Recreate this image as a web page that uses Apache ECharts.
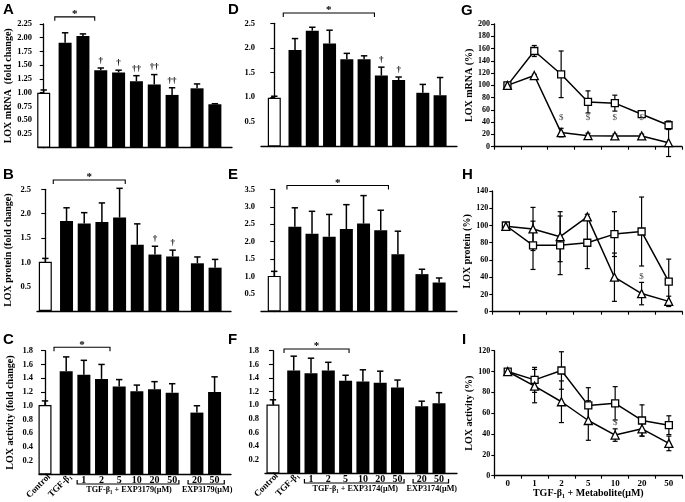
<!DOCTYPE html>
<html><head><meta charset="utf-8">
<script src="https://cdn.jsdelivr.net/npm/echarts@6/dist/echarts.min.js"></script>
<style>html,body{margin:0;padding:0;background:#fff}#c{width:685px;height:502px}</style>
</head><body><div id="c"></div><script>
// ---------------- data ----------------
const barLabels = ['Control', 'TGF-β₁', '1', '2', '5', '10', '20', '50', '20', '50'];
const doseLabels = ['0', '1', '2', '5', '10', '20', '50'];

// A: LOX mRNA, EXP3179
const A_val = [1.00, 1.91, 2.03, 1.41, 1.37, 1.21, 1.15, 0.96, 1.08, 0.79];
const A_err = [0.05, 0.18, 0.04, 0.04, 0.04, 0.10, 0.18, 0.13, 0.08, 0.01];
const A_marks = ['', '', '', '†', '†', '††', '††', '††', '', ''];
const A_sig = [0.62, 2.86, 2.38];
// B: LOX protein, EXP3179
const B_val = [1.01, 1.85, 1.80, 1.83, 1.92, 1.36, 1.16, 1.12, 0.98, 0.89];
const B_err = [0.07, 0.27, 0.22, 0.39, 0.60, 0.43, 0.17, 0.13, 0.13, 0.17];
const B_marks = ['', '', '', '', '', '', '†', '†', '', ''];
const B_sig = [0.45, 4.52, 2.69];
// C: LOX activity, EXP3179
const C_val = [1.01, 1.50, 1.45, 1.39, 1.28, 1.21, 1.24, 1.19, 0.90, 1.20];
const C_err = [0.06, 0.21, 0.21, 0.21, 0.10, 0.09, 0.11, 0.13, 0.10, 0.22];
const C_marks = ['', '', '', '', '', '', '', '', '', ''];
const C_sig = [0.51, 3.68, 1.85];
// D: LOX mRNA, EXP3174
const D_val = [0.99, 1.96, 2.35, 2.09, 1.77, 1.77, 1.44, 1.35, 1.09, 1.04];
const D_err = [0.03, 0.23, 0.07, 0.27, 0.12, 0.07, 0.17, 0.06, 0.17, 0.36];
const D_marks = ['', '', '', '', '', '', '†', '†', '', ''];
const D_sig = [0.52, 5.80, 2.71];
// E: LOX protein, EXP3174
const E_val = [1.02, 2.43, 2.23, 2.14, 2.36, 2.52, 2.33, 1.64, 1.07, 0.83];
const E_err = [0.13, 0.54, 0.64, 0.64, 0.70, 0.80, 0.57, 0.66, 0.14, 0.13];
const E_marks = ['', '', '', '', '', '', '', '', '', ''];
const E_sig = [0.74, 6.65, 3.61];
// F: LOX activity, EXP3174
const F_val = [1.01, 1.51, 1.47, 1.51, 1.36, 1.35, 1.33, 1.26, 0.985, 1.03];
const F_err = [0.07, 0.21, 0.22, 0.12, 0.08, 0.17, 0.17, 0.11, 0.075, 0.155];
const F_marks = ['', '', '', '', '', '', '', '', '', ''];
const F_sig = [0.64, 4.40, 1.825];

// G: LOX mRNA (%)
const G_sq = [100, 156, 118, 73, 71, 53, 35];
const G_sqErr = [0, 9, 38, 18, 13, 4, 7];
const G_tri = [100, 116, 23, 18, 17.5, 17.5, 6.5];
const G_triErr = [0, 2, 7, 4, 3, 3, 22.5];
const G_dollar = ['', '', '$', '$', '$', '$', ''];
const G_dollarLevel = 48;
// H: LOX protein (%)
const H_sq = [100, 77, 77, 80, 90, 93, 35];
const H_sqErr = [0, 28, 34, 30, 26, 40, 26];
const H_tri = [99, 96, 87, 110, 40, 21, 12];
const H_triErr = [0, 25, 29, 3, 28, 13, 6];
const H_dollar = ['', '', '', '', '', '$', ''];
const H_dollarLevel = 40.6;
// I: LOX activity (%)
const I_sq = [100, 92, 101, 67.5, 69.5, 53, 48.5];
const I_sqErr = [0, 12, 18, 17, 16, 15, 9];
const I_tri = [100, 86, 71, 53, 39, 45, 31];
const I_triErr = [0, 16, 20, 19, 6, 7, 7];
const I_dollar = ['', '', '', '', '$', '', ''];
const I_dollarLevel = 51;

// ---------------- layout / style ----------------
const SERIF = '"Liberation Serif", "Times New Roman", serif';
const SANS = '"Liberation Sans", Arial, sans-serif';
const GAP1 = 0.2, GAP2 = 0.4;
const pos = i => i + (i >= 1 ? GAP1 : 0) + (i >= 8 ? GAP2 : 0);
const labelAt = v => { for (let i = 0; i < barLabels.length; i++) if (Math.abs(pos(i) - v) < 1e-6) return barLabels[i]; return ''; };

const grids = [], xAxes = [], yAxes = [], series = [], graphics = [];

function letter(t, x, y) {
  graphics.push({ type: 'text', left: x, top: y, style: { text: t, font: 'bold 15px ' + SANS, fill: '#000' } });
}

function addBarPanel(p) {
  const gi = grids.length;
  grids.push(Object.assign({ containLabel: false }, p.grid));
  const xi = xAxes.length;
  xAxes.push({
    type: 'value', gridIndex: gi, min: p.xr[0], max: p.xr[1], position: 'bottom',
    axisLine: { show: true, onZero: false, lineStyle: { color: '#000', width: 1.3 } },
    axisTick: { show: false }, splitLine: { show: false },
    axisLabel: p.xlabels ? {
      show: true, customValues: [2, 3, 4, 5, 6, 7, 8, 9].map(pos), formatter: v => labelAt(v),
      margin: 1, fontFamily: SERIF, fontWeight: 'bold', fontSize: 10, color: '#000'
    } : { show: false }
  });
  const yi = yAxes.length;
  yAxes.push({
    type: 'value', gridIndex: gi, min: 0, max: p.ymax, interval: p.step,
    axisLine: { show: true, lineStyle: { color: '#000', width: 1.3 } },
    axisTick: { show: true, length: 4, lineStyle: { color: '#000', width: 1.1 } },
    splitLine: { show: false },
    axisLabel: { showMinLabel: false, formatter: v => v.toFixed(p.dec), margin: 6,
      fontFamily: SERIF, fontWeight: 'bold', fontSize: 8.5, color: '#000' },
    name: p.yname || '', nameLocation: 'middle', nameRotate: 90, nameGap: 24,
    nameTextStyle: { fontFamily: SERIF, fontWeight: 'bold', fontSize: 10, color: '#000' }
  });
  series.push({
    type: 'bar', xAxisIndex: xi, yAxisIndex: yi, barWidth: 13, silent: true, z: 2,
    data: p.vals.map((v, i) => ({ value: [pos(i), v],
      itemStyle: i === 0 ? { color: '#fff', borderColor: '#000', borderWidth: 1.2 } : { color: '#000' } }))
  });
  const marks = p.marks;
  series.push({
    type: 'custom', xAxisIndex: xi, yAxisIndex: yi, silent: true, clip: false, z: 3,
    data: p.vals.map((v, i) => [pos(i), v, p.errs[i]]),
    renderItem(params, api) {
      const x = api.value(0), v = api.value(1), e = api.value(2);
      const a = api.coord([x, v]), b = api.coord([x, v + e]);
      const st = { stroke: '#000', lineWidth: 1.5 };
      const ch = [
        { type: 'line', shape: { x1: a[0], y1: a[1], x2: b[0], y2: b[1] }, style: st },
        { type: 'line', shape: { x1: b[0] - 3.2, y1: b[1], x2: b[0] + 3.2, y2: b[1] }, style: st }
      ];
      const m = marks[params.dataIndex];
      if (m) ch.push({ type: 'text', style: { text: m, x: b[0], y: b[1] - 3, align: 'center', verticalAlign: 'bottom',
        font: 'bold 9px ' + SERIF, fill: '#000' } });
      return { type: 'group', children: ch };
    }
  });
  // significance bracket
  series.push({
    type: 'custom', xAxisIndex: xi, yAxisIndex: yi, silent: true, clip: false, z: 3,
    data: [p.sig],
    renderItem(params, api) {
      const a = api.coord([api.value(0), api.value(2)]), b = api.coord([api.value(1), api.value(2)]);
      return { type: 'group', children: [
        { type: 'polyline', shape: { points: [[a[0], a[1] + 4], a, b, [b[0], b[1] + 4]] }, style: { stroke: '#000', lineWidth: 1.1, fill: null } },
        { type: 'text', style: { text: '*', x: (a[0] + b[0]) / 2, y: a[1] + 3, align: 'center', verticalAlign: 'bottom',
          font: 'bold 11px ' + SERIF, fill: '#000' } }
      ] };
    }
  });
  if (p.xlabels) {
    // rotated category labels for Control and TGF-β1
    series.push({
      type: 'custom', xAxisIndex: xi, yAxisIndex: yi, silent: true, clip: false, z: 3,
      data: [[pos(0), 0], [pos(1), 0]],
      renderItem(params, api) {
        const c = api.coord([api.value(0), 0]);
        return { type: 'text', x: c[0] + 4, y: c[1] + 1, rotation: Math.PI / 4,
          style: { text: barLabels[params.dataIndex], x: 0, y: 0, align: 'right', verticalAlign: 'middle',
            font: 'bold 9px ' + SERIF, fill: '#000' } };
      }
    });
    const groups = [[pos(2) - 0.38, pos(7) + 0.38, p.groupName], [pos(8) - 0.5, pos(9) + 0.55, p.groupName2]];
    series.push({
      type: 'custom', xAxisIndex: xi, yAxisIndex: yi, silent: true, clip: false, z: 3,
      data: groups.map(g => [g[0], g[1], 0]),
      renderItem(params, api) {
        const a = api.coord([api.value(0), 0]), b = api.coord([api.value(1), 0]);
        const y = a[1] + 9.5;
        return { type: 'group', children: [
          { type: 'polyline', shape: { points: [[a[0], y - 4], [a[0], y], [b[0], y], [b[0], y - 4]] }, style: { stroke: '#000', lineWidth: 1.2, fill: null } },
          { type: 'text', style: { text: groups[params.dataIndex][2], x: (a[0] + b[0]) / 2 + 1, y: y + 2, align: 'center', verticalAlign: 'top',
            font: 'bold 8.2px ' + SERIF, fill: '#000' } }
        ] };
      }
    });
  }
}

function addLinePanel(p) {
  const gi = grids.length;
  grids.push(Object.assign({ containLabel: false }, p.grid));
  const xi = xAxes.length;
  xAxes.push({
    type: 'category', gridIndex: gi, data: doseLabels, boundaryGap: true,
    axisLine: { show: true, onZero: false, lineStyle: { color: '#000', width: 1.3 } },
    axisTick: { show: true, length: 3, interval: 0, lineStyle: { color: '#000', width: 1.1 } },
    splitLine: { show: false },
    axisLabel: { show: !!p.xname, interval: 0, margin: 3, fontFamily: SERIF, fontWeight: 'bold', fontSize: 9, color: '#000' },
    name: p.xname || '', nameLocation: 'middle', nameGap: 13,
    nameTextStyle: { fontFamily: SERIF, fontWeight: 'bold', fontSize: 10, color: '#000' }
  });
  const yi = yAxes.length;
  yAxes.push({
    type: 'value', gridIndex: gi, min: 0, max: p.ymax, interval: 20,
    axisLine: { show: true, lineStyle: { color: '#000', width: 1.3 } },
    axisTick: { show: true, length: 3, lineStyle: { color: '#000', width: 1.1 } },
    splitLine: { show: false },
    axisLabel: { margin: 4, fontFamily: SERIF, fontWeight: 'bold', fontSize: 8, color: '#000' },
    name: p.yname, nameLocation: 'middle', nameRotate: 90, nameGap: 16,
    nameTextStyle: { fontFamily: SERIF, fontWeight: 'bold', fontSize: 10, color: '#000' }
  });
  const errSeries = (vals, errs) => ({
    type: 'custom', xAxisIndex: xi, yAxisIndex: yi, silent: true, clip: false, z: 2,
    data: vals.map((v, i) => [i, v, errs[i]]),
    renderItem(params, api) {
      const e = api.value(2);
      if (!e) return null;
      const a = api.coord([api.value(0), api.value(1) + e]), b = api.coord([api.value(0), api.value(1) - e]);
      const st = { stroke: '#000', lineWidth: 1.2 };
      return { type: 'group', children: [
        { type: 'line', shape: { x1: a[0], y1: a[1], x2: b[0], y2: b[1] }, style: st },
        { type: 'line', shape: { x1: a[0] - 2.5, y1: a[1], x2: a[0] + 2.5, y2: a[1] }, style: st },
        { type: 'line', shape: { x1: b[0] - 2.5, y1: b[1], x2: b[0] + 2.5, y2: b[1] }, style: st }
      ] };
    }
  });
  series.push(errSeries(p.sq, p.sqErr), errSeries(p.tri, p.triErr));
  const lineS = (vals, sym, size) => ({
    type: 'line', xAxisIndex: xi, yAxisIndex: yi, data: vals, symbol: sym, symbolSize: size, showAllSymbol: true,
    silent: true, z: 3, lineStyle: { color: '#000', width: 1.5 },
    itemStyle: { color: '#fff', borderColor: '#000', borderWidth: 1.3 }
  });
  series.push(lineS(p.sq, 'rect', 7), lineS(p.tri, 'triangle', 8));
  const dollars = p.dollar;
  series.push({
    type: 'custom', xAxisIndex: xi, yAxisIndex: yi, silent: true, clip: false, z: 4,
    data: dollars.map((d, i) => [i, p.dollarLevel]),
    renderItem(params, api) {
      const d = dollars[params.dataIndex];
      if (!d) return null;
      const c = api.coord([api.value(0), api.value(1)]);
      return { type: 'text', style: { text: d, x: c[0], y: c[1], align: 'center', verticalAlign: 'middle',
        font: '9px ' + SERIF, fill: '#444' } };
    }
  });
}

// ---------------- panels ----------------
addBarPanel({ grid: { left: 38, top: 24, width: 194, height: 123.7 }, xr: [-0.32, 10.56], ymax: 2.25, step: 0.25, dec: 2,
  vals: A_val, errs: A_err, marks: A_marks, sig: A_sig, yname: 'LOX mRNA  (fold change)' });
addBarPanel({ grid: { left: 261, top: 23.3, width: 196, height: 123.2 }, xr: [-0.77, 10.58], ymax: 2.5, step: 0.5, dec: 1,
  vals: D_val, errs: D_err, marks: D_marks, sig: D_sig });
addBarPanel({ grid: { left: 37, top: 189.3, width: 194, height: 121.7 }, xr: [-0.47, 10.5], ymax: 2.5, step: 0.5, dec: 1,
  vals: B_val, errs: B_err, marks: B_marks, sig: B_sig, yname: 'LOX protein (fold change)' });
addBarPanel({ grid: { left: 261, top: 189.3, width: 196, height: 122.2 }, xr: [-0.77, 10.64], ymax: 3.5, step: 0.5, dec: 1,
  vals: E_val, errs: E_err, marks: E_marks, sig: E_sig });
addBarPanel({ grid: { left: 39, top: 350.7, width: 192, height: 123.8 }, xr: [-0.34, 10.53], ymax: 1.8, step: 0.2, dec: 1,
  vals: C_val, errs: C_err, marks: C_marks, sig: C_sig, yname: 'LOX activity (fold change)',
  xlabels: true, groupName: 'TGF-β₁ + EXP3179(μM)', groupName2: 'EXP3179(μM)' });
addBarPanel({ grid: { left: 265, top: 350.7, width: 192, height: 122.8 }, xr: [-0.46, 10.64], ymax: 1.8, step: 0.2, dec: 1,
  vals: F_val, errs: F_err, marks: F_marks, sig: F_sig,
  xlabels: true, groupName: 'TGF-β₁ + EXP3174(μM)', groupName2: 'EXP3174(μM)' });

addLinePanel({ grid: { left: 494, top: 24, width: 188, height: 122.7 }, ymax: 200, yname: 'LOX mRNA (%)',
  sq: G_sq, sqErr: G_sqErr, tri: G_tri, triErr: G_triErr, dollar: G_dollar, dollarLevel: G_dollarLevel });
addLinePanel({ grid: { left: 492.3, top: 191, width: 190, height: 120.7 }, ymax: 140, yname: 'LOX protein (%)',
  sq: H_sq, sqErr: H_sqErr, tri: H_tri, triErr: H_triErr, dollar: H_dollar, dollarLevel: H_dollarLevel });
addLinePanel({ grid: { left: 494.3, top: 350.7, width: 188, height: 125 }, ymax: 120, yname: 'LOX activity (%)',
  xname: 'TGF-β₁ + Metabolite(μM)',
  sq: I_sq, sqErr: I_sqErr, tri: I_tri, triErr: I_triErr, dollar: I_dollar, dollarLevel: I_dollarLevel });

letter('A', 3, 2); letter('D', 228, 2); letter('G', 461, 3);
letter('B', 3, 167); letter('E', 228, 167); letter('H', 462, 167);
letter('C', 3, 332); letter('F', 228, 332); letter('I', 462, 332);

const chart = echarts.init(document.getElementById('c'), null, { renderer: 'canvas' });
chart.setOption({
  animation: false, backgroundColor: '#fff',
  grid: grids, xAxis: xAxes, yAxis: yAxes, series: series, graphic: graphics
});
</script></body></html>
